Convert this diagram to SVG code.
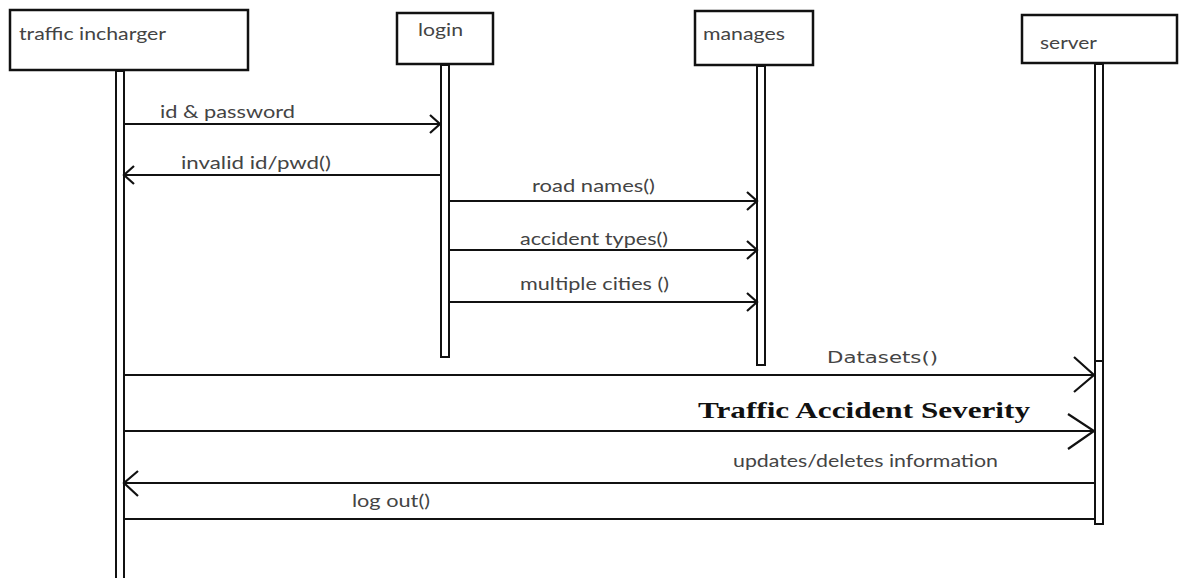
<svg xmlns="http://www.w3.org/2000/svg" width="1179" height="578" viewBox="0 0 1179 578">
<style>
.box{fill:#fff;stroke:#111;stroke-width:2.5}
.life{fill:#fff;stroke:#111;stroke-width:2}
.lbl{font-family:"Lato","Open Sans",sans-serif;font-size:18px;fill:#444}
.msg{stroke:#111;stroke-width:2.2;fill:none}
.head{stroke:#111;stroke-width:2.2;fill:none}
</style>
<rect width="1179" height="578" fill="#fff"/>
<g id="traffic-incharger">
<rect class="box" x="10" y="10" width="238" height="60"/>
<text class="lbl" x="19" y="40" textLength="147" lengthAdjust="spacingAndGlyphs">traffic incharger</text>
<rect class="life" x="116" y="71" width="8" height="510"/>
</g>
<g id="login">
<rect class="box" x="397" y="13" width="96" height="51"/>
<text class="lbl" x="418" y="36" textLength="45" lengthAdjust="spacingAndGlyphs">login</text>
<rect class="life" x="441" y="65" width="8" height="292"/>
</g>
<g id="manages">
<rect class="box" x="695" y="11" width="118" height="54"/>
<text class="lbl" x="703" y="40" textLength="82" lengthAdjust="spacingAndGlyphs">manages</text>
<rect class="life" x="757" y="66" width="8" height="299"/>
</g>
<g id="server">
<rect class="box" x="1022" y="15" width="155" height="48"/>
<text class="lbl" x="1040" y="49" textLength="57" lengthAdjust="spacingAndGlyphs">server</text>
<rect class="life" x="1095" y="64" width="8" height="460"/>
<line x1="1095" y1="361" x2="1103" y2="361" stroke="#111" stroke-width="2"/>
</g>
<g id="connectors">
<line class="msg" x1="124" y1="124" x2="440" y2="124"/>
<polyline class="head" points="430,115 440,124 430,133"/>
<text class="lbl" x="160" y="118" textLength="135" lengthAdjust="spacingAndGlyphs">id &amp; password</text>

<line class="msg" x1="124" y1="175" x2="441" y2="175"/>
<polyline class="head" points="134,166 124,175 134,184"/>
<text class="lbl" x="181" y="169" textLength="150" lengthAdjust="spacingAndGlyphs">invalid id/pwd()</text>

<line class="msg" x1="449" y1="201" x2="757" y2="201"/>
<polyline class="head" points="747,192 757,201 747,210"/>
<text class="lbl" x="532" y="192" textLength="123" lengthAdjust="spacingAndGlyphs">road names()</text>

<line class="msg" x1="449" y1="250" x2="757" y2="250"/>
<polyline class="head" points="747,241 757,250 747,259"/>
<text class="lbl" x="520" y="245" textLength="148" lengthAdjust="spacingAndGlyphs">accident types()</text>

<line class="msg" x1="449" y1="302" x2="757" y2="302"/>
<polyline class="head" points="747,293 757,302 747,311"/>
<text class="lbl" x="520" y="290" textLength="149" lengthAdjust="spacingAndGlyphs">multiple cities  ()</text>

<line class="msg" x1="124" y1="375" x2="1095" y2="375"/>
<polyline class="head" points="1074,357 1094,375 1074,392"/>
<text x="827" y="363" textLength="111" lengthAdjust="spacingAndGlyphs" style="font-family:'DejaVu Sans',Verdana,sans-serif;font-size:15px;fill:#444">Datasets()</text>

<line class="msg" x1="124" y1="431" x2="1095" y2="431"/>
<polyline class="head" points="1068,414 1094,431 1068,449"/>
<text x="698" y="418" textLength="332" lengthAdjust="spacingAndGlyphs" style="font-family:'Liberation Serif','Times New Roman',serif;font-size:23px;font-weight:bold;fill:#111">Traffic Accident Severity</text>

<line class="msg" x1="124" y1="483" x2="1095" y2="483"/>
<polyline class="head" points="138,471 124,483 138,496"/>
<text class="lbl" x="733" y="467" textLength="265" lengthAdjust="spacingAndGlyphs">updates/deletes information</text>

<line class="msg" x1="124" y1="519" x2="1095" y2="519"/>
<text class="lbl" x="352" y="507" textLength="78" lengthAdjust="spacingAndGlyphs">log out()</text>
</g>
</svg>
